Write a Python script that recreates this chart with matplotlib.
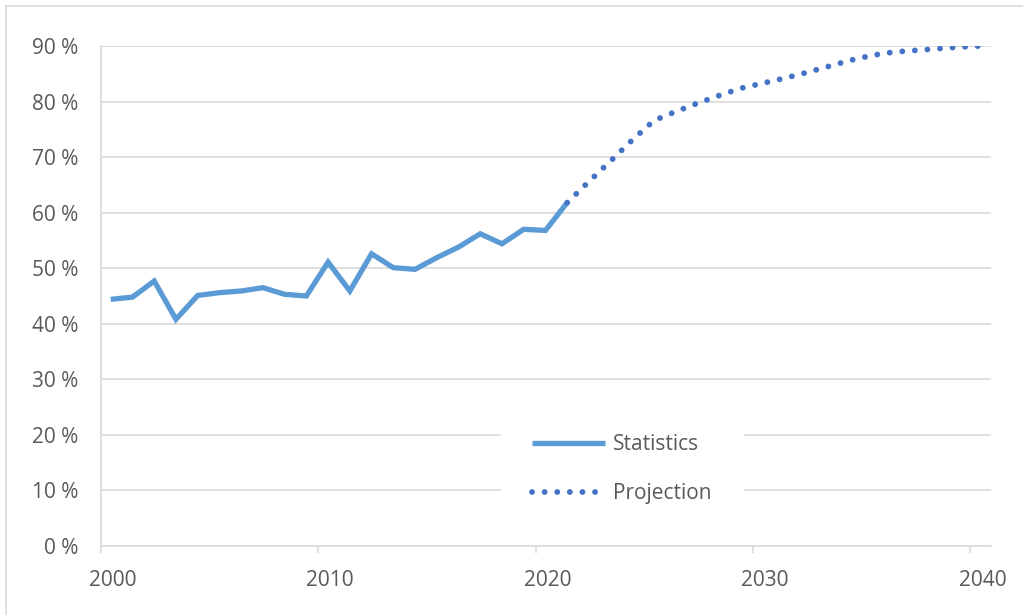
import numpy as np
import matplotlib
matplotlib.use('Agg')
import matplotlib.pyplot as plt
import matplotlib.transforms as mtransforms
from matplotlib.patches import Rectangle

# statistics, one value per year (share in %)
stat_years = np.arange(2000, 2022)
stat_values = [44.4, 44.8, 47.7, 40.8, 45.1, 45.6, 45.9, 46.5, 45.3, 45.0, 51.1,
               45.9, 52.6, 50.1, 49.8, 51.9, 53.8, 56.2, 54.4, 57.0, 56.8, 61.8]

# projection, one value per year
proj_years = np.arange(2021, 2041)
proj_values = [61.8, 65.6, 69.3, 73.1, 76.6, 78.2, 79.7, 81.1, 82.4, 83.3,
               84.2, 85.2, 86.3, 87.4, 88.3, 88.9, 89.2, 89.5, 89.8, 90.0]

y_ticks = [0, 10, 20, 30, 40, 50, 60, 70, 80, 90]
x_ticks = [2000, 2010, 2020, 2030, 2040]

plt.rcParams['font.family'] = ['Open Sans', 'DejaVu Sans']
grey_text = '#595959'
grid_col = '#D9D9D9'

fig = plt.figure(figsize=(10.23, 6.15), dpi=100)
ax = fig.add_axes([0.0987, 0.1122, 0.8700, 0.8130])

# outer chart border
fig.patches.append(Rectangle((6 / 1023, -0.01), 1.1, 1 - 6 / 615 + 0.01,
                             transform=fig.transFigure, fill=False,
                             edgecolor='#D9D9D9', linewidth=1.2))

offset = 0.45  # values sit inside the year on the date axis
ax.plot(stat_years + offset, stat_values, color='#5B9BD5', linewidth=3.8,
        solid_capstyle='butt', solid_joinstyle='miter', label='Statistics', zorder=3)
ax.plot(proj_years + offset, proj_values, color='#4472C4', linewidth=4.2,
        linestyle=(0, (0.01, 2.15)), dash_capstyle='round', label='Projection', zorder=3)

ax.set_xlim(2000, 2040.95)
ax.set_ylim(0, 90)
ax.set_yticks(y_ticks)
ax.set_yticklabels([f'{v} %' for v in y_ticks])
ax.set_xticks(x_ticks)
ax.set_xticklabels([str(v) for v in x_ticks])

ax.grid(axis='y', color=grid_col, linewidth=1.2)
ax.set_axisbelow(True)
for s in ['top', 'right']:
    ax.spines[s].set_visible(False)
ax.spines['left'].set_color(grid_col)
ax.spines['bottom'].set_color(grid_col)
ax.spines['left'].set_linewidth(1.2)
ax.spines['bottom'].set_linewidth(1.2)

ax.tick_params(axis='y', length=0, pad=16, labelsize=15, labelcolor=grey_text)
ax.tick_params(axis='x', direction='out', length=5, width=1.2, color=grid_col,
               pad=12, labelsize=15, labelcolor=grey_text)

# x labels sit a little right of their tick
shift = mtransforms.ScaledTranslation(12 / 100, 0, fig.dpi_scale_trans)
for lab in ax.get_xticklabels():
    lab.set_transform(lab.get_transform() + shift)

leg = ax.legend(loc='center', bbox_to_anchor=(0.608, 0.237),
                bbox_transform=fig.transFigure, frameon=True, fancybox=False,
                edgecolor='white', facecolor='white', framealpha=1,
                fontsize=15, handlelength=3.5, handletextpad=0.4,
                labelspacing=1.35, borderpad=1.5, borderaxespad=0)
for t in leg.get_texts():
    t.set_color(grey_text)

fig.savefig('out.png', dpi=100)
